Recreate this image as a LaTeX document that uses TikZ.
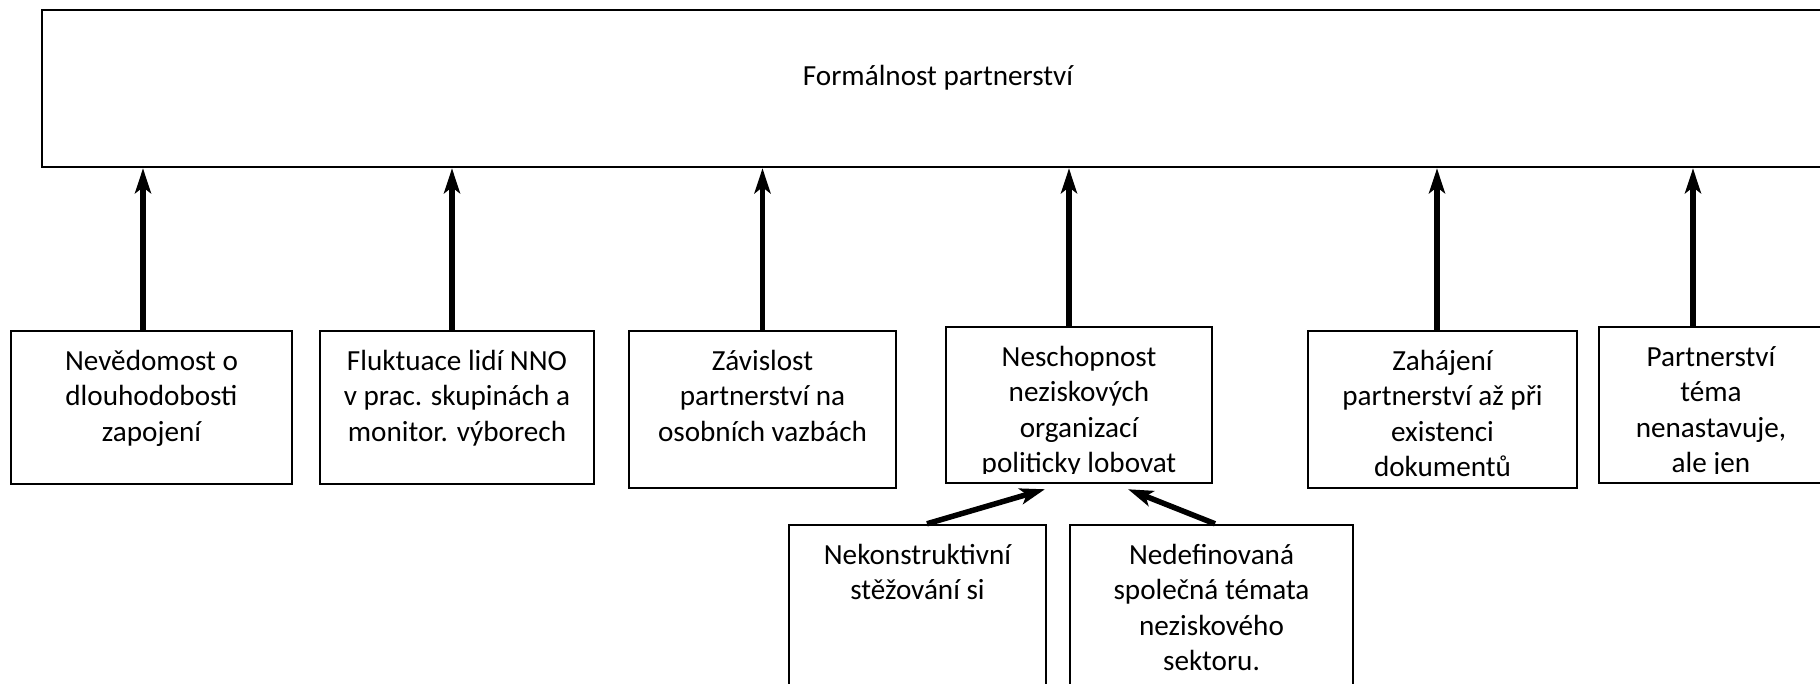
\documentclass[tikz,border=0pt]{standalone}
\usepackage{fontspec}
\setmainfont{Carlito}
\usetikzlibrary{arrows.meta}
\tikzset{
  box/.style={draw=black, line width=0.7pt, inner sep=0pt},
  lbl/.style={font=\fontsize{8.3}{10.1}\selectfont, align=center, inner sep=0pt},
  tbox/.style={box, path picture={
      \clip ([yshift=0.1cm]path picture bounding box.south west) rectangle (path picture bounding box.north east);
      \node[lbl, draw=none, minimum width=0pt, minimum height=0pt, anchor=north] at ([yshift=-0.13cm]path picture bounding box.north) {\strut #1};}},
  arr/.style={-{Stealth[length=0.25cm, width=0.16cm, inset=0.06cm]}, line width=0.055cm}
}
\begin{document}
\begin{tikzpicture}
\useasboundingbox (0,0) rectangle (18.2,-6.84);
\clip (0,0) rectangle (18.2,-6.84);
% top
\node[box, lbl, minimum width=17.92cm, minimum height=1.57cm, text height=0.2cm, text depth=0.27cm] (form) at (9.38,-0.885) {Formálnost partnerství};
% row of causes
\node[tbox={Nevědomost o\\dlouhodobosti\\zapojení}, minimum width=2.81cm, minimum height=1.53cm] (nev) at (1.515,-4.075) {};
\node[tbox={Fluktuace lidí NNO\\v prac. skupinách a\\monitor. výborech}, minimum width=2.74cm, minimum height=1.53cm] (flu) at (4.57,-4.075) {};
\node[tbox={Závislost\\partnerství na\\osobních vazbách}, minimum width=2.67cm, minimum height=1.57cm] (zav) at (7.625,-4.095) {};
\node[tbox={Neschopnost\\neziskových\\organizací\\politicky lobovat}, minimum width=2.66cm, minimum height=1.56cm] (nes) at (10.79,-4.05) {};
\node[tbox={Zahájení\\partnerství až při\\existenci\\dokumentů}, minimum width=2.69cm, minimum height=1.57cm] (zah) at (14.425,-4.095) {};
\node[tbox={Partnerství\\téma\\nenastavuje,\\ale jen}, minimum width=2.24cm, minimum height=1.56cm] (par) at (17.11,-4.05) {};
% under Neschopnost
\node[tbox={Nekonstruktivní\\stěžování si}, minimum width=2.57cm, minimum height=1.9cm] (nek) at (9.175,-6.2) {};
\node[tbox={Nedefinovaná\\společná témata\\neziskového\\sektoru.}, minimum width=2.83cm, minimum height=1.9cm] (ned) at (12.115,-6.2) {};
% arrows up
\draw[arr] ([xshift=-0.085cm]nev.north) -- ([xshift=-0.085cm]nev.north |- form.south);
\draw[arr] ([xshift=-0.05cm]flu.north) -- ([xshift=-0.05cm]flu.north |- form.south);
\draw[arr] (zav.north) -- (zav.north |- form.south);
\draw[arr] ([xshift=-0.1cm]nes.north) -- ([xshift=-0.1cm]nes.north |- form.south);
\draw[arr] ([xshift=-0.055cm]zah.north) -- ([xshift=-0.055cm]zah.north |- form.south);
\draw[arr] ([xshift=-0.18cm]par.north) -- ([xshift=-0.18cm]par.north |- form.south);
\draw[arr] ([xshift=0.095cm]nek.north) -- ([xshift=-0.34cm, yshift=-0.05cm]nes.south);
\draw[arr] ([xshift=0.035cm]ned.north) -- ([xshift=0.49cm, yshift=-0.05cm]nes.south);
\end{tikzpicture}
\end{document}
